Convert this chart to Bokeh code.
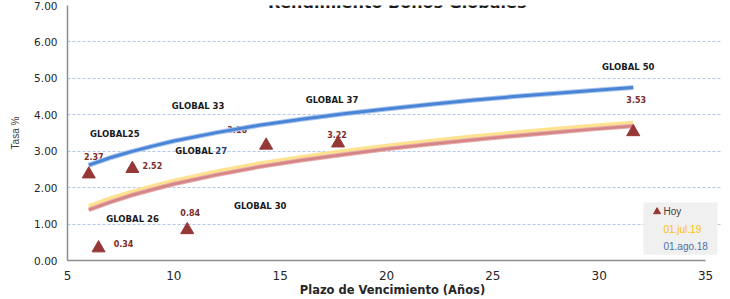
from bokeh.plotting import figure
from bokeh.models import Range1d, FixedTicker, NumeralTickFormatter, BoxAnnotation, Label, ColumnDataSource
from bokeh.core.properties import value
from bokeh.embed import file_html
from bokeh.resources import INLINE

# ---- data ----
title = "Rendimiento Bonos Globales"
bonds = ["GLOBAL25", "GLOBAL 26", "GLOBAL 27", "GLOBAL 30", "GLOBAL 33", "GLOBAL 37", "GLOBAL 50"]
plazo = [6.0, 6.46, 8.05, 10.63, 14.34, 17.72, 31.6]
tasa_hoy = [2.37, 0.34, 2.52, 0.84, 3.16, 3.22, 3.53]

curve_x = [6, 7, 8, 9, 10, 12, 14, 16, 18, 20, 22, 24, 26, 28, 30, 31.6]
curve_ago18 = [2.62, 2.82, 2.99, 3.14, 3.28, 3.51, 3.71, 3.88, 4.03, 4.16, 4.28, 4.40, 4.50, 4.59, 4.68, 4.75]
curve_jul19 = [1.48, 1.69, 1.87, 2.03, 2.18, 2.43, 2.65, 2.83, 2.99, 3.14, 3.27, 3.39, 3.50, 3.60, 3.70, 3.77]
curve_hoy = [1.39, 1.60, 1.79, 1.95, 2.10, 2.35, 2.57, 2.75, 2.91, 3.06, 3.19, 3.31, 3.42, 3.52, 3.62, 3.69]

y_ticks = [0, 1, 2, 3, 4, 5, 6, 7]
x_ticks = [5, 10, 15, 20, 25, 30, 35]

# label offsets (pixels) relative to each point
val_dx = [5, 25, 20, 3, -29, -1, 3]
val_dy = [-18, -5, -3, -17, -16, -9, -32]
name_dx = [26, 34, 0, 73, -68, -6, -5]
name_dy = [-40, -29, 0, -24, -39, -43, -65]

DARKRED = "#953735"
LABELRED = "#7b2c2c"

p = figure(width=730, height=299, output_backend="svg", toolbar_location=None,
           x_range=Range1d(5, 35.75), y_range=Range1d(0, 7),
           min_border_left=67, min_border_right=9, min_border_top=5, min_border_bottom=38)
p.outline_line_color = None
p.background_fill_color = "white"

# axes
for ax in (p.xaxis[0], p.yaxis[0]):
    ax.axis_line_color = "#8c8c8c"
    ax.axis_line_width = 1.5
    ax.major_tick_line_color = None
    ax.minor_tick_line_color = None
    ax.major_tick_out = 0
    ax.major_tick_in = 0
    ax.minor_tick_out = 0
    ax.minor_tick_in = 0
    ax.major_label_text_color = "#262626"
    ax.major_label_text_font = "DejaVu Sans"
p.xaxis.bounds = (5, 35)
p.xaxis.ticker = FixedTicker(ticks=x_ticks)
p.xaxis.major_label_text_font_size = "12px"
p.xaxis.major_label_standoff = 10
p.xaxis.axis_label = "Plazo de Vencimiento  (Años)"
p.xaxis.axis_label_text_font = "DejaVu Sans"
p.xaxis.axis_label_text_font_style = "bold"
p.xaxis.axis_label_text_font_size = "11.5px"
p.xaxis.axis_label_text_color = "#262626"
p.xaxis.axis_label_standoff = 0

p.yaxis.ticker = FixedTicker(ticks=y_ticks)
p.yaxis.formatter = NumeralTickFormatter(format="0.00")
p.yaxis.major_label_text_font_size = "10.5px"
p.yaxis.major_label_standoff = 10
p.yaxis.axis_label = "Tasa %"
p.yaxis.axis_label_text_font = "Liberation Sans"
p.yaxis.axis_label_text_font_style = "normal"
p.yaxis.axis_label_text_font_size = "10px"
p.yaxis.axis_label_text_color = "#404040"
p.yaxis.axis_label_standoff = 10

p.xgrid.visible = False
p.ygrid.ticker = FixedTicker(ticks=y_ticks[1:])
p.ygrid.bounds = (5, 35)
p.ygrid.grid_line_color = "#b4c6ea"
p.ygrid.grid_line_dash = "3 2"
p.ygrid.grid_line_width = 1

# title, mostly cut off at the top edge as in the original
p.add_layout(Label(x=20.5, y=7.07, text=title, text_align="center",
                   text_baseline="alphabetic", text_font="DejaVu Sans", text_font_style="bold",
                   text_font_size="16px", text_color="#1a1a1a"))

# legend background
p.add_layout(BoxAnnotation(left=32.08, right=35.56, bottom=0.16, top=1.59,
                           fill_color="#f0f0f0", fill_alpha=1, line_color=None, level="underlay"))

src = ColumnDataSource(dict(x=plazo, y=tasa_hoy, vals=[f"{v:.2f}" for v in tasa_hoy],
                            names=bonds, vdx=val_dx, vdy=val_dy, ndx=name_dx, ndy=name_dy))

# value labels (drawn under curves)
p.text(x="x", y="y", text="vals", x_offset="vdx", y_offset="vdy", source=src,
       text_align="center", text_baseline="middle", text_font=value("DejaVu Sans"),
       text_font_style="bold", text_font_size="8px", text_color=LABELRED)

# curves
p.line(curve_x, curve_jul19, line_color="#ffe28f", line_width=5)
p.line(curve_x, curve_hoy, line_color="#e6aaaa", line_width=4.5)
p.line(curve_x, curve_hoy, line_color="#d58585", line_width=2.5)
p.line(curve_x, curve_ago18, line_color="#a9c6ee", line_width=5)
p.line(curve_x, curve_ago18, line_color="#4a84d6", line_width=3)

# triangles
p.scatter(x="x", y="y", source=src, marker="triangle", size=13,
          fill_color=DARKRED, line_color=DARKRED)

# bond names
idx = [i for i in range(len(bonds)) if i != 2]
name_src = ColumnDataSource(dict(x=[plazo[i] for i in idx], y=[tasa_hoy[i] for i in idx],
                                 t=[bonds[i] for i in idx], dx=[name_dx[i] for i in idx],
                                 dy=[name_dy[i] for i in idx]))
p.text(x="x", y="y", text="t", x_offset="dx", y_offset="dy", source=name_src,
       text_align="center", text_baseline="middle", text_font=value("DejaVu Sans"),
       text_font_style="bold", text_font_size="8.5px", text_color="#1a1a1a")
# GLOBAL 27 with blue number
p.text(x=[plazo[2]], y=[tasa_hoy[2]], text=["GLOBAL"], x_offset=43, y_offset=-18,
       text_align="left", text_baseline="middle", text_font=value("DejaVu Sans"),
       text_font_style="bold", text_font_size="8.5px", text_color="#1a1a1a")
p.text(x=[plazo[2]], y=[tasa_hoy[2]], text=["27"], x_offset=83, y_offset=-18,
       text_align="left", text_baseline="middle", text_font=value("DejaVu Sans"),
       text_font_style="bold", text_font_size="8.5px", text_color="#1f3f7a")

# legend contents
p.scatter(x=[32.72], y=[1.34], marker="triangle", size=7, fill_color=DARKRED, line_color=DARKRED)
for txt, yy, col in [("Hoy", 1.34, "#404040"), ("01.jul.19", 0.85, "#ffc000"), ("01.ago.18", 0.38, "#4f6fa8")]:
    p.add_layout(Label(x=33.02, y=yy, text=txt, text_baseline="middle", text_align="left",
                       text_font="Liberation Sans", text_font_size="10px", text_color=col))

open("out.html", "w").write(file_html(p, INLINE))
